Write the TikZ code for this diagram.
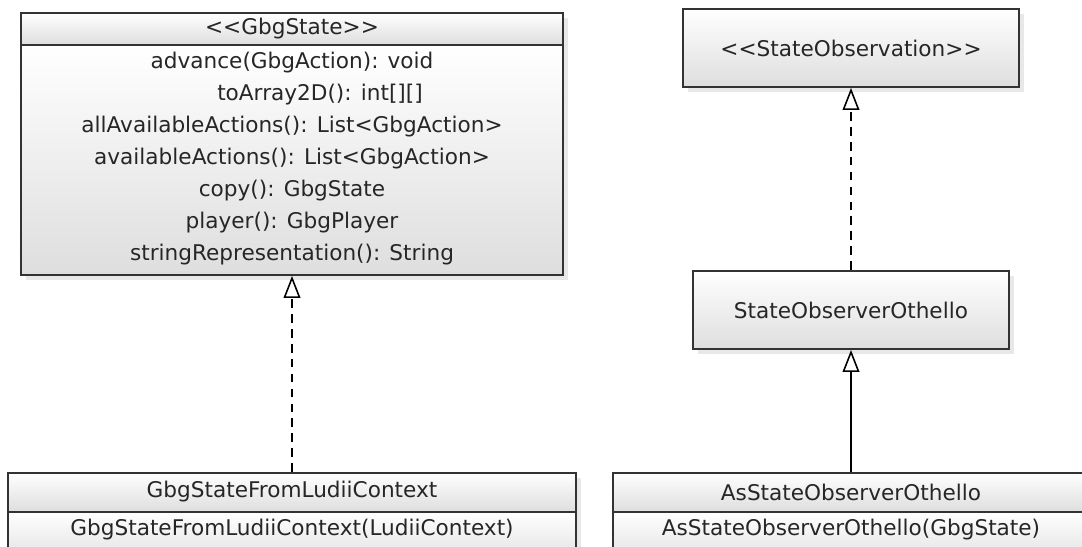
\documentclass[tikz,border=0pt]{standalone}
\usepackage{fontspec}
\setmainfont{DejaVu Sans}
\usetikzlibrary{arrows.meta,shadows}

\tikzset{
  umlbox/.style={draw=black!80, line width=1.1pt, top color=white, bottom color=black!13,
    inner sep=0pt, drop shadow={shadow xshift=3pt, shadow yshift=-3pt, opacity=0.18}},
  umltext/.style={font=\fontsize{12.3}{14}\selectfont, text=black!85, inner sep=0pt},
  realizes/.style={line width=0.8pt, dash pattern=on 5pt off 3.5pt,
    -{Triangle[open, length=12.5pt, width=9.5pt, line width=0.9pt]}},
  extends/.style={line width=0.8pt,
    -{Triangle[open, length=12.5pt, width=9.5pt, line width=0.9pt]}}
}

\begin{document}
\begin{tikzpicture}[x=0.02cm, y=0.02cm]
  \useasboundingbox (0, 0) rectangle (1082, 547);
  \clip (0, 0) rectangle (1082, 547);
  \fill[white] (0, 0) rectangle (1082, 547);

  % GbgState interface
  \node[umlbox, minimum width=10.84cm, minimum height=0.64cm] (gbghead) at (292, 518) {};
  \node[umlbox, minimum width=10.84cm, minimum height=4.6cm] (gbgbody) at (292, 387) {};
  \node[umltext] (gbgname) at (292, 518) {{<}{<}GbgState{>}{>}};
  \node[umltext] (advance) at (292, 484) {advance(GbgAction): void};
  \node[umltext] (toarray) at (320, 452) {toArray2D(): int[][]};
  \node[umltext] (allactions) at (292, 420) {allAvailableActions(): List<GbgAction>};
  \node[umltext] (actions) at (292, 388) {availableActions(): List<GbgAction>};
  \node[umltext] (copy) at (292, 356) {copy(): GbgState};
  \node[umltext] (player) at (292, 324) {player(): GbgPlayer};
  \node[umltext] (stringrep) at (292, 292) {stringRepresentation(): String};

  % GbgStateFromLudiiContext class
  \node[umlbox, minimum width=11.36cm, minimum height=0.78cm] (ludiihead) at (292, 54.5) {};
  \node[umlbox, minimum width=11.36cm, minimum height=1.1cm] (ludiibody) at (292, 7.5) {};
  \node[umltext] (ludiiname) at (292, 55) {GbgStateFromLudiiContext};
  \node[umltext] (ludiictor) at (292, 17) {GbgStateFromLudiiContext(LudiiContext)};

  % StateObservation interface
  \node[umlbox, minimum width=6.72cm, minimum height=1.56cm] (observation) at (851, 499) {};
  \node[umltext] (observationname) at (851, 499) {{<}{<}StateObservation{>}{>}};

  % StateObserverOthello class
  \node[umlbox, minimum width=6.32cm, minimum height=1.56cm] (othello) at (851, 237) {};
  \node[umltext] (othelloname) at (851, 237) {StateObserverOthello};

  % AsStateObserverOthello class
  \node[umlbox, minimum width=9.52cm, minimum height=0.78cm] (ashead) at (851, 54.5) {};
  \node[umlbox, minimum width=9.52cm, minimum height=1.1cm] (asbody) at (851, 7.5) {};
  \node[umltext] (asname) at (851, 55) {AsStateObserverOthello};
  \node[umltext] (asctor) at (851, 17) {AsStateObserverOthello(GbgState)};

  \draw[realizes] (ludiihead.north) -- (gbgbody.south);
  \draw[realizes] (othello.north) -- (observation.south);
  \draw[extends] (ashead.north) -- (othello.south);
\end{tikzpicture}
\end{document}
